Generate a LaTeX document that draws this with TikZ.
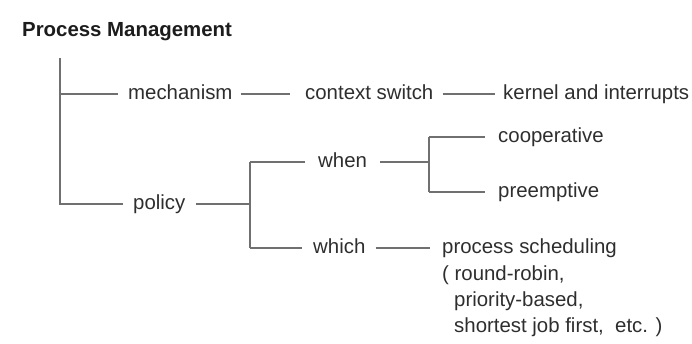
\documentclass[tikz,border=0pt]{standalone}
\usepackage{fontspec}
\setmainfont{Liberation Sans}
\definecolor{txt}{HTML}{2E2E2E}
\definecolor{ttl}{HTML}{1C1C1C}
\definecolor{ln}{HTML}{707070}
\begin{document}
\begin{tikzpicture}[x=1pt,y=-1pt,
  lbl/.style={anchor=west, inner sep=0pt, text height=10.6pt, text depth=0pt,
    font=\fontsize{20.4}{26.3}\selectfont, text=txt},
  subline/.style={anchor=base west, inner sep=0pt,
    font=\fontsize{20.4}{26.3}\selectfont, text=txt},
  heading/.style={anchor=base west, inner sep=0pt,
    font=\fontsize{20.4}{26.3}\selectfont\bfseries, text=ttl},
  conn/.style={draw=ln, line width=1.5pt}]
\useasboundingbox (0,0) rectangle (692,343);

% labels
\node[heading] (pm) at (22,36) {Process Management};
\node[lbl] (mech)  at (128,94)  {mechanism};
\node[lbl] (ctx)   at (305,94)  {context switch};
\node[lbl] (kern)  at (503,94)  {kernel and interrupts};
\node[lbl] (pol)   at (133,204) {policy};
\node[lbl] (when)  at (318,162) {when};
\node[lbl] (coop)  at (498,137) {cooperative};
\node[lbl] (pre)   at (498,192) {preemptive};
\node[lbl] (which) at (313,248) {which};
\node[lbl] (ps)    at (442,248) {process scheduling};
\node[subline] (alg1) at (442,280) {( round-robin,};
\node[subline] (alg2) at (454,306) {priority-based,};
\node[subline] (alg3) at (454,332) {shortest job first,~ etc. )};

% tree junctions
\coordinate (root) at (60,58);
\coordinate (pj) at (250,204);
\coordinate (wj) at (429,162);

% connectors
\draw[conn] (root) |- ([xshift=-10pt]pol.west);
\draw[conn] (root |- mech.west) -- ([xshift=-10pt]mech.west);
\draw[conn] ([xshift=8pt]mech.east) -- ([xshift=-15pt]ctx.west);
\draw[conn] ([xshift=9pt]ctx.east) -- ([xshift=-8pt]kern.west);

\draw[conn] ([xshift=10pt]pol.east) -- (pj);
\draw[conn] (pj |- when.west) -- (pj |- which.west);
\draw[conn] (pj |- when.west) -- ([xshift=-13pt]when.west);
\draw[conn] (pj |- which.west) -- ([xshift=-11pt]which.west);

\draw[conn] ([xshift=13pt]when.east) -- (wj);
\draw[conn] (wj |- coop.west) -- (wj |- pre.west);
\draw[conn] (wj |- coop.west) -- ([xshift=-13pt]coop.west);
\draw[conn] (wj |- pre.west) -- ([xshift=-13pt]pre.west);

\draw[conn] ([xshift=10pt]which.east) -- ([xshift=-12pt]ps.west);
\end{tikzpicture}
\end{document}
